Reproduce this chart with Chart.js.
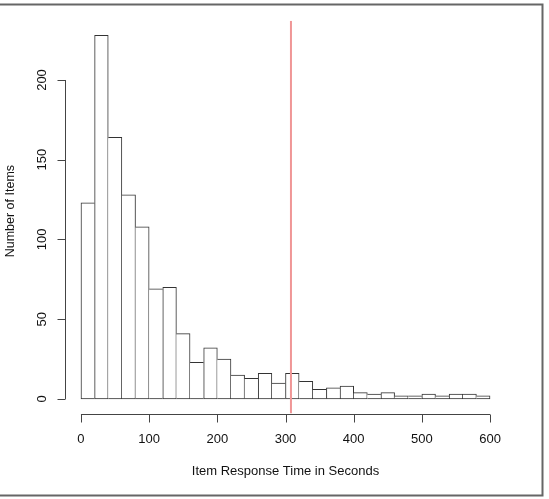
<!DOCTYPE html>
<html>
<head>
<meta charset="utf-8">
<script src="https://cdn.jsdelivr.net/npm/chart.js@4.4.1/dist/chart.umd.min.js"></script>
<style>
  body { margin: 0; background: #fff; }
  canvas { display: block; }
</style>
</head>
<body>
<canvas id="histChart" width="549" height="499"></canvas>
<script>
// bins of 20 seconds (left edges)
const binStarts = [0, 20, 40, 60, 80, 100, 120, 140, 160, 180,
                   200, 220, 240, 260, 280, 300, 320, 340, 360, 380,
                   400, 420, 440, 460, 480, 500, 520, 540, 560, 580];
const binWidth = 20;
const itemCounts = [123, 228, 164, 128, 108, 69, 70, 41, 23, 32,
                    25, 15, 13, 16, 10, 16, 11, 6, 7, 8,
                    4, 3, 4, 2, 2, 3, 2, 3, 3, 2];
const cutoff = 308;
const xTicks = [0, 100, 200, 300, 400, 500, 600];
const yTicks = [0, 50, 100, 150, 200];
// R style ranges (data range + 4%)
const xMin = -24, xMax = 624;
const yMin = -9.12, yMax = 237.12;

const histData = binStarts.map((b, i) => ({ x: b + binWidth / 2, y: itemCounts[i] }));

// shared edges drawn once, by the taller of the two bars
function barBorders(c) {
    const i = c.dataIndex;
    const n = itemCounts.length;
    const h = itemCounts[i];
    return {
        top: 1,
        bottom: 1,
        left: (i === 0 || itemCounts[i - 1] < h) ? 1 : 0,
        right: (i === n - 1 || itemCounts[i + 1] <= h) ? 1 : 0
    };
}

// draws R style axes, labels and the frame
const rAxes = {
    id: 'rAxes',
    afterDraw(chart) {
        const ctx = chart.ctx;
        const xs = chart.scales.x;
        const ys = chart.scales.y;
        const area = chart.chartArea;
        ctx.save();
        ctx.strokeStyle = '#444';
        ctx.fillStyle = '#111';
        ctx.lineWidth = 1;

        // x axis
        const ay = Math.round(area.bottom) + 0.5;
        ctx.beginPath();
        ctx.moveTo(xs.getPixelForValue(xTicks[0]), ay);
        ctx.lineTo(xs.getPixelForValue(xTicks[xTicks.length - 1]), ay);
        xTicks.forEach(t => {
            const px = Math.round(xs.getPixelForValue(t)) + 0.5;
            ctx.moveTo(px, ay);
            ctx.lineTo(px, ay + 8);
        });
        ctx.stroke();
        ctx.font = '13px "Liberation Sans", Arial, sans-serif';
        ctx.textAlign = 'center';
        ctx.textBaseline = 'middle';
        xTicks.forEach(t => ctx.fillText(String(t), xs.getPixelForValue(t), ay + 25));
        ctx.fillText('Item Response Time in Seconds', (area.left + area.right) / 2, ay + 57);

        // y axis
        const ax = Math.round(area.left) + 0.5;
        ctx.beginPath();
        ctx.moveTo(ax, ys.getPixelForValue(yTicks[0]));
        ctx.lineTo(ax, ys.getPixelForValue(yTicks[yTicks.length - 1]));
        yTicks.forEach(t => {
            const py = Math.round(ys.getPixelForValue(t)) + 0.5;
            ctx.moveTo(ax, py);
            ctx.lineTo(ax - 8, py);
        });
        ctx.stroke();
        yTicks.forEach(t => {
            ctx.save();
            ctx.translate(ax - 23, ys.getPixelForValue(t));
            ctx.rotate(-Math.PI / 2);
            ctx.fillText(String(t), 0, 0);
            ctx.restore();
        });
        ctx.font = '12.5px "Liberation Sans", Arial, sans-serif';
        ctx.save();
        ctx.translate(11, (area.top + area.bottom) / 2 - 6);
        ctx.rotate(-Math.PI / 2);
        ctx.fillText('Number of Items', 0, 0);
        ctx.restore();

        // outer frame
        ctx.strokeStyle = '#666';
        ctx.lineWidth = 2;
        ctx.beginPath();
        ctx.moveTo(0, 4.5);
        ctx.lineTo(542.5, 4.5);
        ctx.lineTo(542.5, 495.5);
        ctx.lineTo(0, 495.5);
        ctx.stroke();
        ctx.restore();
    }
};

const ctx = document.getElementById('histChart').getContext('2d');
const histChart = new Chart(ctx, {
    type: 'bar',
    data: {
        datasets: [{
            type: 'line',
            data: [{ x: cutoff, y: yMin }, { x: cutoff, y: yMax }],
            borderColor: 'rgb(240, 150, 150)',
            borderWidth: 2,
            pointRadius: 0,
            fill: false
        }, {
            data: histData,
            backgroundColor: '#fff',
            borderColor: '#333',
            borderSkipped: false,
            borderWidth: barBorders,
            barPercentage: 1,
            categoryPercentage: 1
        }]
    },
    options: {
        responsive: false,
        animation: false,
        layout: { padding: { left: 64.6, right: 42.6, top: 20.8, bottom: 85.5 } },
        plugins: { legend: { display: false }, tooltip: { enabled: false } },
        scales: {
            x: { type: 'linear', min: xMin, max: xMax, offset: false, display: false },
            y: { type: 'linear', min: yMin, max: yMax, display: false }
        }
    },
    plugins: [rAxes]
});
</script>
</body>
</html>
